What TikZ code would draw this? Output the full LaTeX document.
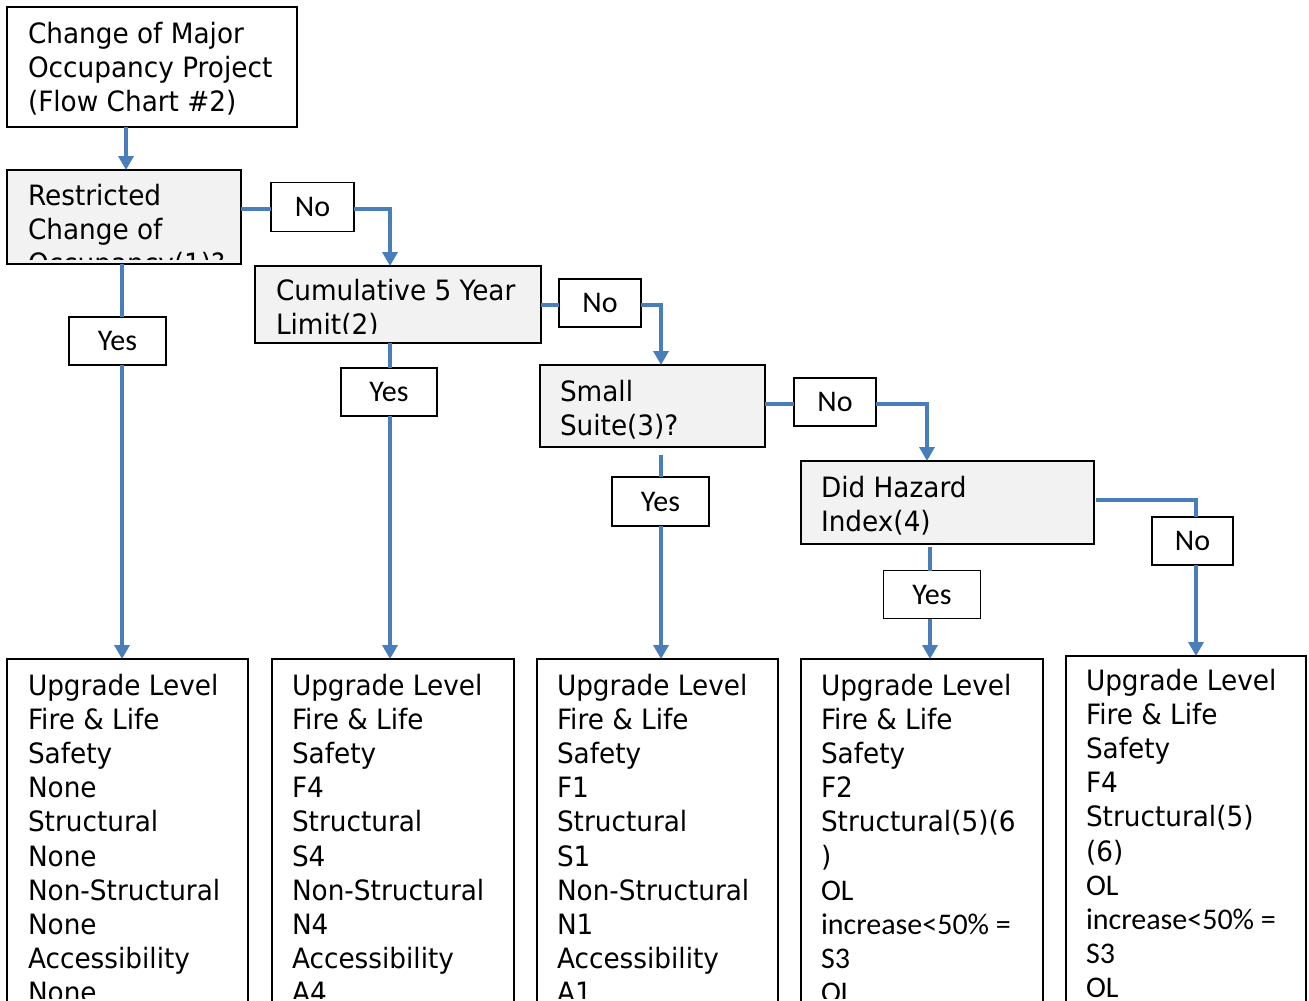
\documentclass[tikz,border=0pt]{standalone}
\usepackage{fontspec}
\setmainfont{DejaVu Sans}[FakeStretch=0.94]
\newfontfamily\calfont{Carlito}
\usetikzlibrary{arrows.meta}

\definecolor{flowblue}{HTML}{4A7EBB}
\definecolor{boxgray}{HTML}{F2F2F2}

% strut that fixes the height of the first text line
\newcommand\fl{\rule{0pt}{24pt}}
% lines set in the narrower face
\newcommand\cb[1]{{\calfont\fontsize{30}{34.2}\selectfont #1}}

\tikzset{
  box/.style={draw=black, line width=1.8pt, fill=white, inner sep=0pt, outer sep=0pt},
  qbox/.style={box, fill=boxgray},
  tag/.style={box, font=\calfont\fontsize{30}{34}\selectfont},
  txt/.style={anchor=north west, inner sep=0pt, outer sep=0pt, align=left,
              font=\fontsize{28}{34.2}\selectfont},
  link/.style={draw=flowblue, line width=3.5pt},
  arr/.style={link, -{Triangle[width=15pt,length=14pt]}},
}

\begin{document}
\begin{tikzpicture}[x=1pt,y=-1pt]
\useasboundingbox (0,0) rectangle (1309,1001);
\clip (0,0) rectangle (1309,1001);
\fill[white] (0,0) rectangle (1309,1001);

% channels of the connectors
\coordinate (v0) at (126,0);
\coordinate (v1) at (122,0);
\coordinate (v2) at (390,0);
\coordinate (v3) at (661,0);
\coordinate (v4a) at (927,0);
\coordinate (v4) at (930,0);
\coordinate (v5) at (1196,0);
\coordinate (h1) at (0,209);
\coordinate (h2) at (0,305);
\coordinate (h3) at (0,404);
\coordinate (h4) at (0,500);

% start box
\node[box, minimum width=290pt, minimum height=120pt] (start) at (152,67) {};
\node[txt] (startt) at (28,19) {\fl Change of Major\\Occupancy Project\\(Flow Chart \#2)};

% decision boxes, text cut by the frame of the box text
\node[qbox, minimum width=234pt, minimum height=94pt] (rest) at (124,217) {};
\begin{scope}
  \clip (rest.north west) rectangle (241,259);
  \node[txt] (restt) at (28,181) {\fl Restricted\\Change of\\Occupancy(1)?};
\end{scope}

\node[qbox, minimum width=286pt, minimum height=77pt] (cum) at (398,304.5) {};
\begin{scope}
  \clip (cum.north west) rectangle (541,333);
  \node[txt] (cumt) at (276,276) {\fl Cumulative 5 Year\\Limit(2)};
\end{scope}

\node[qbox, minimum width=225pt, minimum height=82pt] (ss) at (652.5,406) {};
\node[txt] (sst) at (560,377) {\fl Small\\Suite(3)?};

\node[qbox, minimum width=293pt, minimum height=83pt] (hz) at (947.5,502.5) {};
\node[txt] (hzt) at (821,473) {\fl Did Hazard\\Index(4)};

% answer tags
\node[tag, minimum width=83pt, minimum height=49pt] (n1) at (312.5,207) {No};
\node[tag, minimum width=97pt, minimum height=48pt] (y1) at (117.5,341) {Yes};
\node[tag, minimum width=96pt, minimum height=48pt] (y2) at (389,392) {Yes};
\node[tag, minimum width=82pt, minimum height=48pt] (n2) at (600,303) {No};
\node[tag, minimum width=82pt, minimum height=48pt] (n3) at (835,402) {No};
\node[tag, minimum width=97pt, minimum height=49pt] (y3) at (660.5,501.5) {Yes};
\node[tag, minimum width=81pt, minimum height=48pt] (n4) at (1192.5,541) {No};
\node[tag, minimum width=97pt, minimum height=48pt] (y4) at (932,594.5) {Yes};

% result boxes
\node[box, minimum width=241pt, minimum height=351pt] (b1) at (127.5,834.5) {};
\node[box, minimum width=242pt, minimum height=351pt] (b2) at (393,834.5) {};
\node[box, minimum width=241pt, minimum height=351pt] (b3) at (657.5,834.5) {};
\node[box, minimum width=242pt, minimum height=351pt] (b4) at (922,834.5) {};
\node[box, minimum width=240pt, minimum height=354pt] (b5) at (1186,833) {};

\begin{scope}
  \clip (0,0) rectangle (1309,998);
  \node[txt] (b1t) at (28,671) {\fl Upgrade Level\\Fire \& Life\\Safety\\None\\Structural\\None\\Non-Structural\\None\\Accessibility\\None};
  \node[txt] (b2t) at (292,671) {\fl Upgrade Level\\Fire \& Life\\Safety\\F4\\Structural\\S4\\Non-Structural\\N4\\Accessibility\\A4};
  \node[txt] (b3t) at (557,671) {\fl Upgrade Level\\Fire \& Life\\Safety\\F1\\Structural\\S1\\Non-Structural\\N1\\Accessibility\\A1};
  \node[txt] (b4t) at (821,671) {\fl Upgrade Level\\Fire \& Life\\Safety\\F2\\Structural(5)(6\\)\\\cb{OL}\\\cb{increase<50\% =}\\\cb{S3}\\\cb{OL}};
  \node[txt] (b5t) at (1086,666) {\fl Upgrade Level\\Fire \& Life\\Safety\\F4\\Structural(5)\\(6)\\\cb{OL}\\\cb{increase<50\% =}\\\cb{S3}\\\cb{OL}};
\end{scope}

% connectors
\draw[arr] (start.south -| v0) -- (rest.north -| v0);

\draw[link] (rest.east |- h1) -- (n1.west |- h1);
\draw[arr] (n1.east |- h1) -| (cum.north -| v2);
\draw[link] (rest.south -| v1) -- (y1.north -| v1);
\draw[arr] (y1.south -| v1) -- (b1.north -| v1);

\draw[link] (cum.south -| v2) -- (y2.north -| v2);
\draw[arr] (y2.south -| v2) -- (b2.north -| v2);
\draw[link] (cum.east |- h2) -- (n2.west |- h2);
\draw[arr] (n2.east |- h2) -| (ss.north -| v3);

\draw[link, shorten <=8pt] (ss.south -| v3) -- (y3.north -| v3);
\draw[arr] (y3.south -| v3) -- (b3.north -| v3);
\draw[link] (ss.east |- h3) -- (n3.west |- h3);
\draw[arr] (n3.east |- h3) -| (hz.north -| v4a);

\draw[link, shorten <=3pt] (hz.south -| v4) -- (y4.north -| v4);
\draw[arr] (y4.south -| v4) -- (b4.north -| v4);
\draw[link, shorten <=2pt] (hz.east |- h4) -| (n4.north -| v5);
\draw[arr] (n4.south -| v5) -- (b5.north -| v5);
\end{tikzpicture}
\end{document}
